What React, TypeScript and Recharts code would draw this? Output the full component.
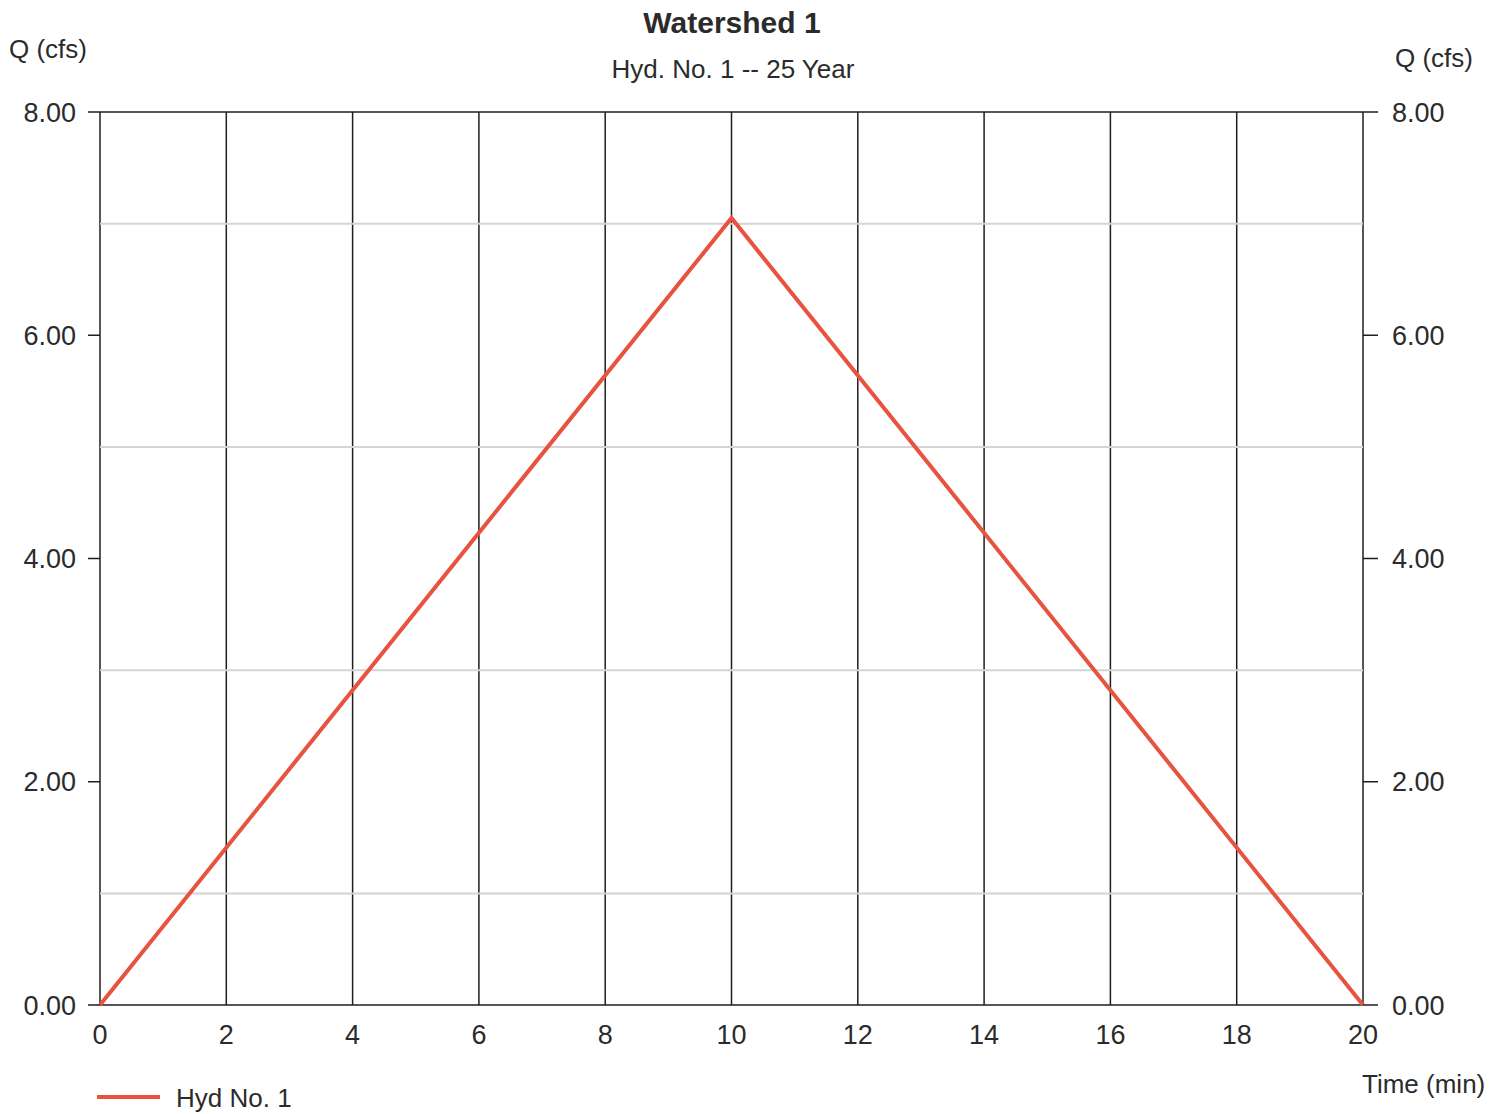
import { LineChart, Line, XAxis, YAxis, CartesianGrid, ReferenceLine } from "recharts";

// hydrograph (time in min, flow in cfs)
const timeMin = [0, 10, 20];
const flowCfs = [0, 7.05, 0];

const xTicks = [0, 2, 4, 6, 8, 10, 12, 14, 16, 18, 20];
const yTicks = [0, 2, 4, 6, 8];
const minorYLines = [1, 3, 5, 7];

const data = timeMin.map((t, i) => ({ t, q: flowCfs[i] }));

const FONT = "'Liberation Sans', Arial, sans-serif";
const INK = "#2b2b2b";
const RED = "#e8533f";

const txt = (extra: React.CSSProperties): React.CSSProperties => ({
  position: "absolute",
  fontFamily: FONT,
  fontSize: 26,
  lineHeight: "30px",
  color: INK,
  whiteSpace: "nowrap",
  ...extra,
});

export default function App() {
  const tickStyle = { fontFamily: FONT, fontSize: 27, fill: INK };
  const fmt = (v: number) => v.toFixed(2);

  return (
    <div style={{ position: "absolute", left: 0, top: 0, width: 1503, height: 1114, background: "#fff" }}>
      <LineChart
        width={1503}
        height={1114}
        data={data}
        margin={{ top: 112, right: 0, bottom: 0, left: 0 }}
      >
        <CartesianGrid stroke="#1e1e1e" strokeWidth={1.5} />
        {minorYLines.map((v) => (
          <ReferenceLine key={v} yAxisId="left" y={v} stroke="#d4d4d4" strokeWidth={2} />
        ))}
        <XAxis
          dataKey="t"
          type="number"
          domain={[0, 20]}
          ticks={xTicks}
          height={109}
          axisLine={false}
          tickLine={false}
          tickMargin={14}
          tick={tickStyle}
        />
        <YAxis
          yAxisId="left"
          orientation="left"
          domain={[0, 8]}
          ticks={yTicks}
          width={100}
          axisLine={false}
          tickLine={{ stroke: "#1e1e1e", strokeWidth: 1.5 }}
          tickSize={12}
          tickMargin={12}
          tickFormatter={fmt}
          tick={tickStyle}
        />
        <YAxis
          yAxisId="right"
          orientation="right"
          domain={[0, 8]}
          ticks={yTicks}
          width={140}
          axisLine={false}
          tickLine={{ stroke: "#1e1e1e", strokeWidth: 1.5 }}
          tickSize={15}
          tickMargin={14}
          tickFormatter={fmt}
          tick={tickStyle}
        />
        {/* mirror series so the right axis gets its scale; not drawn */}
        <Line
          yAxisId="right"
          type="linear"
          dataKey="q"
          stroke="none"
          dot={false}
          activeDot={false}
          legendType="none"
          isAnimationActive={false}
        />
        <Line
          yAxisId="left"
          type="linear"
          dataKey="q"
          stroke={RED}
          strokeWidth={4}
          dot={false}
          isAnimationActive={false}
        />
      </LineChart>

      <div style={txt({ left: 0, width: 1464, top: 6, textAlign: "center", fontSize: 30, fontWeight: "bold", lineHeight: "34px" })}>
        Watershed 1
      </div>
      <div style={txt({ left: 0, width: 1466, top: 54, textAlign: "center" })}>Hyd. No. 1 -- 25 Year</div>
      <div style={txt({ left: 9, top: 34 })}>Q (cfs)</div>
      <div style={txt({ left: 1395, top: 43 })}>Q (cfs)</div>
      <div style={txt({ left: 1362, top: 1069 })}>Time (min)</div>

      <div style={{ position: "absolute", left: 97, top: 1095, width: 63, height: 4, background: RED }} />
      <div style={txt({ left: 176, top: 1083 })}>Hyd No. 1</div>
    </div>
  );
}
